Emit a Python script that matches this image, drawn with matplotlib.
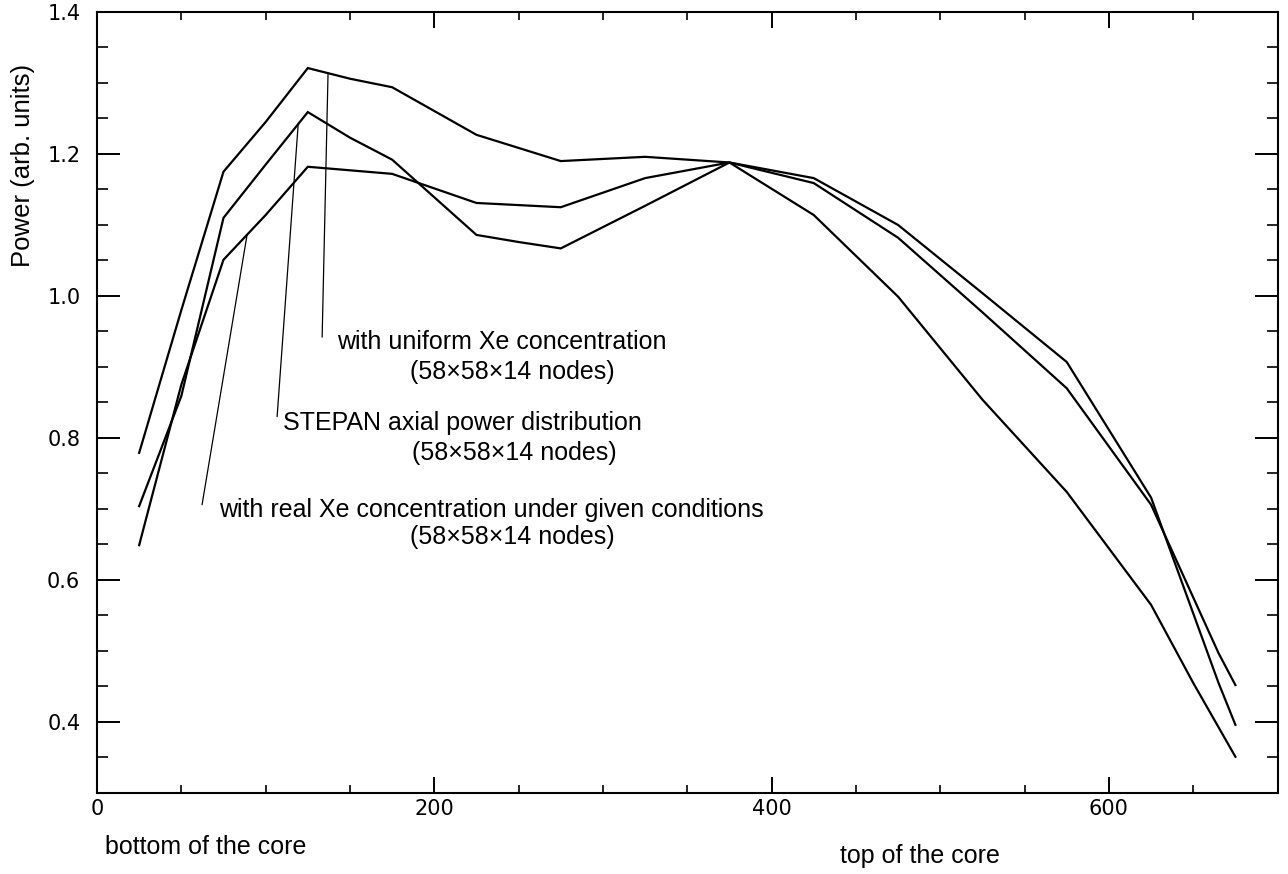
import numpy as np
import matplotlib
matplotlib.use('Agg')
import matplotlib.pyplot as plt
from matplotlib.ticker import MultipleLocator

# axial position (cm) and relative power
z_uniform=[25,50,75,100,125,150,175,225,275,325,375,425,475,525,575,625,665,675]
p_uniform=[0.779,0.980,1.175,1.245,1.321,1.306,1.294,1.227,1.190,1.196,1.188,1.166,1.100,1.004,0.907,0.716,0.455,0.396]

z_stepan=[25,50,75,100,125,150,175,225,250,275,325,375,425,475,525,575,625,665,675]
p_stepan=[0.704,0.859,1.110,1.185,1.259,1.223,1.192,1.086,1.076,1.067,1.127,1.188,1.159,1.082,0.977,0.870,0.706,0.497,0.452]

z_real=[25,50,75,100,125,175,225,275,325,375,425,475,525,575,625,650,675]
p_real=[0.649,0.875,1.051,1.114,1.182,1.172,1.131,1.125,1.166,1.188,1.114,0.999,0.854,0.724,0.565,0.455,0.351]

labels=['with uniform Xe concentration',
        'STEPAN axial power distribution',
        'with real Xe concentration under given conditions']
nodes_label='(58\u00d758\u00d714 nodes)'

x_ticks=[0,200,400,600]
y_ticks=[0.4,0.6,0.8,1.0,1.2,1.4]

# leader lines: start point near the text, tip x on the curve
lead_start=[(133.5,0.942),(106.8,0.830),(62.3,0.706)]
lead_tip_x=[137,119.3,89]
text_pos=[(142.4,0.935),(110.4,0.821),(72.4,0.699)]
nodes_pos=[(185.8,0.893),(186.9,0.779),(185.8,0.661)]

txt_font=['Liberation Sans','DejaVu Sans']

fig=plt.figure(figsize=(12.88,8.74),dpi=100)
ax=fig.add_axes([0.0753,0.0927,0.9166,0.8936])

curves=[(z_uniform,p_uniform),(z_stepan,p_stepan),(z_real,p_real)]
for z,p in curves:
    ax.plot(z,p,color='black',lw=1.6,solid_joinstyle='miter')

for (z,p),st,tx in zip(curves,lead_start,lead_tip_x):
    tip=(tx,np.interp(tx,z,p))
    ax.annotate('',xy=tip,xytext=st,
                arrowprops=dict(arrowstyle='-',color='black',lw=0.9,shrinkA=0,shrinkB=0))

for lab,tp,npos in zip(labels,text_pos,nodes_pos):
    ax.text(tp[0],tp[1],lab,ha='left',va='center',fontsize=18,family=txt_font)
    ax.text(npos[0],npos[1],nodes_label,ha='left',va='center',fontsize=18,family=txt_font)

ax.set_xlim(0,700)
ax.set_ylim(0.3,1.4)
ax.xaxis.set_minor_locator(MultipleLocator(50))
ax.yaxis.set_minor_locator(MultipleLocator(0.05))
ax.set_xticks(x_ticks)
ax.set_xticklabels([str(v) for v in x_ticks])
ax.set_yticks(y_ticks)
ax.set_yticklabels(['%.1f'%v for v in y_ticks])

ax.tick_params(which='both',direction='in',top=True,right=True,color='black',
               labelsize=15,labelfontfamily='DejaVu Sans')
ax.tick_params(axis='x',which='major',length=11.5,width=1.4,pad=4)
ax.tick_params(axis='x',which='minor',length=6,width=1.2)
ax.tick_params(axis='y',which='major',length=16.5,width=1.4,pad=12)
ax.tick_params(axis='y',which='minor',length=8,width=1.2)

for s in ax.spines.values():
    s.set_linewidth(1.5)

ax.set_ylabel('Power (arb. units)',fontsize=18.5,family=txt_font)
ax.yaxis.set_label_coords(-0.0526,0.803)

fig.text(105/1288,1-847/874,'bottom of the core',ha='left',va='center',fontsize=18,family=txt_font)
fig.text(840/1288,1-856/874,'top of the core',ha='left',va='center',fontsize=18,family=txt_font)

fig.savefig('out.png',dpi=100)
